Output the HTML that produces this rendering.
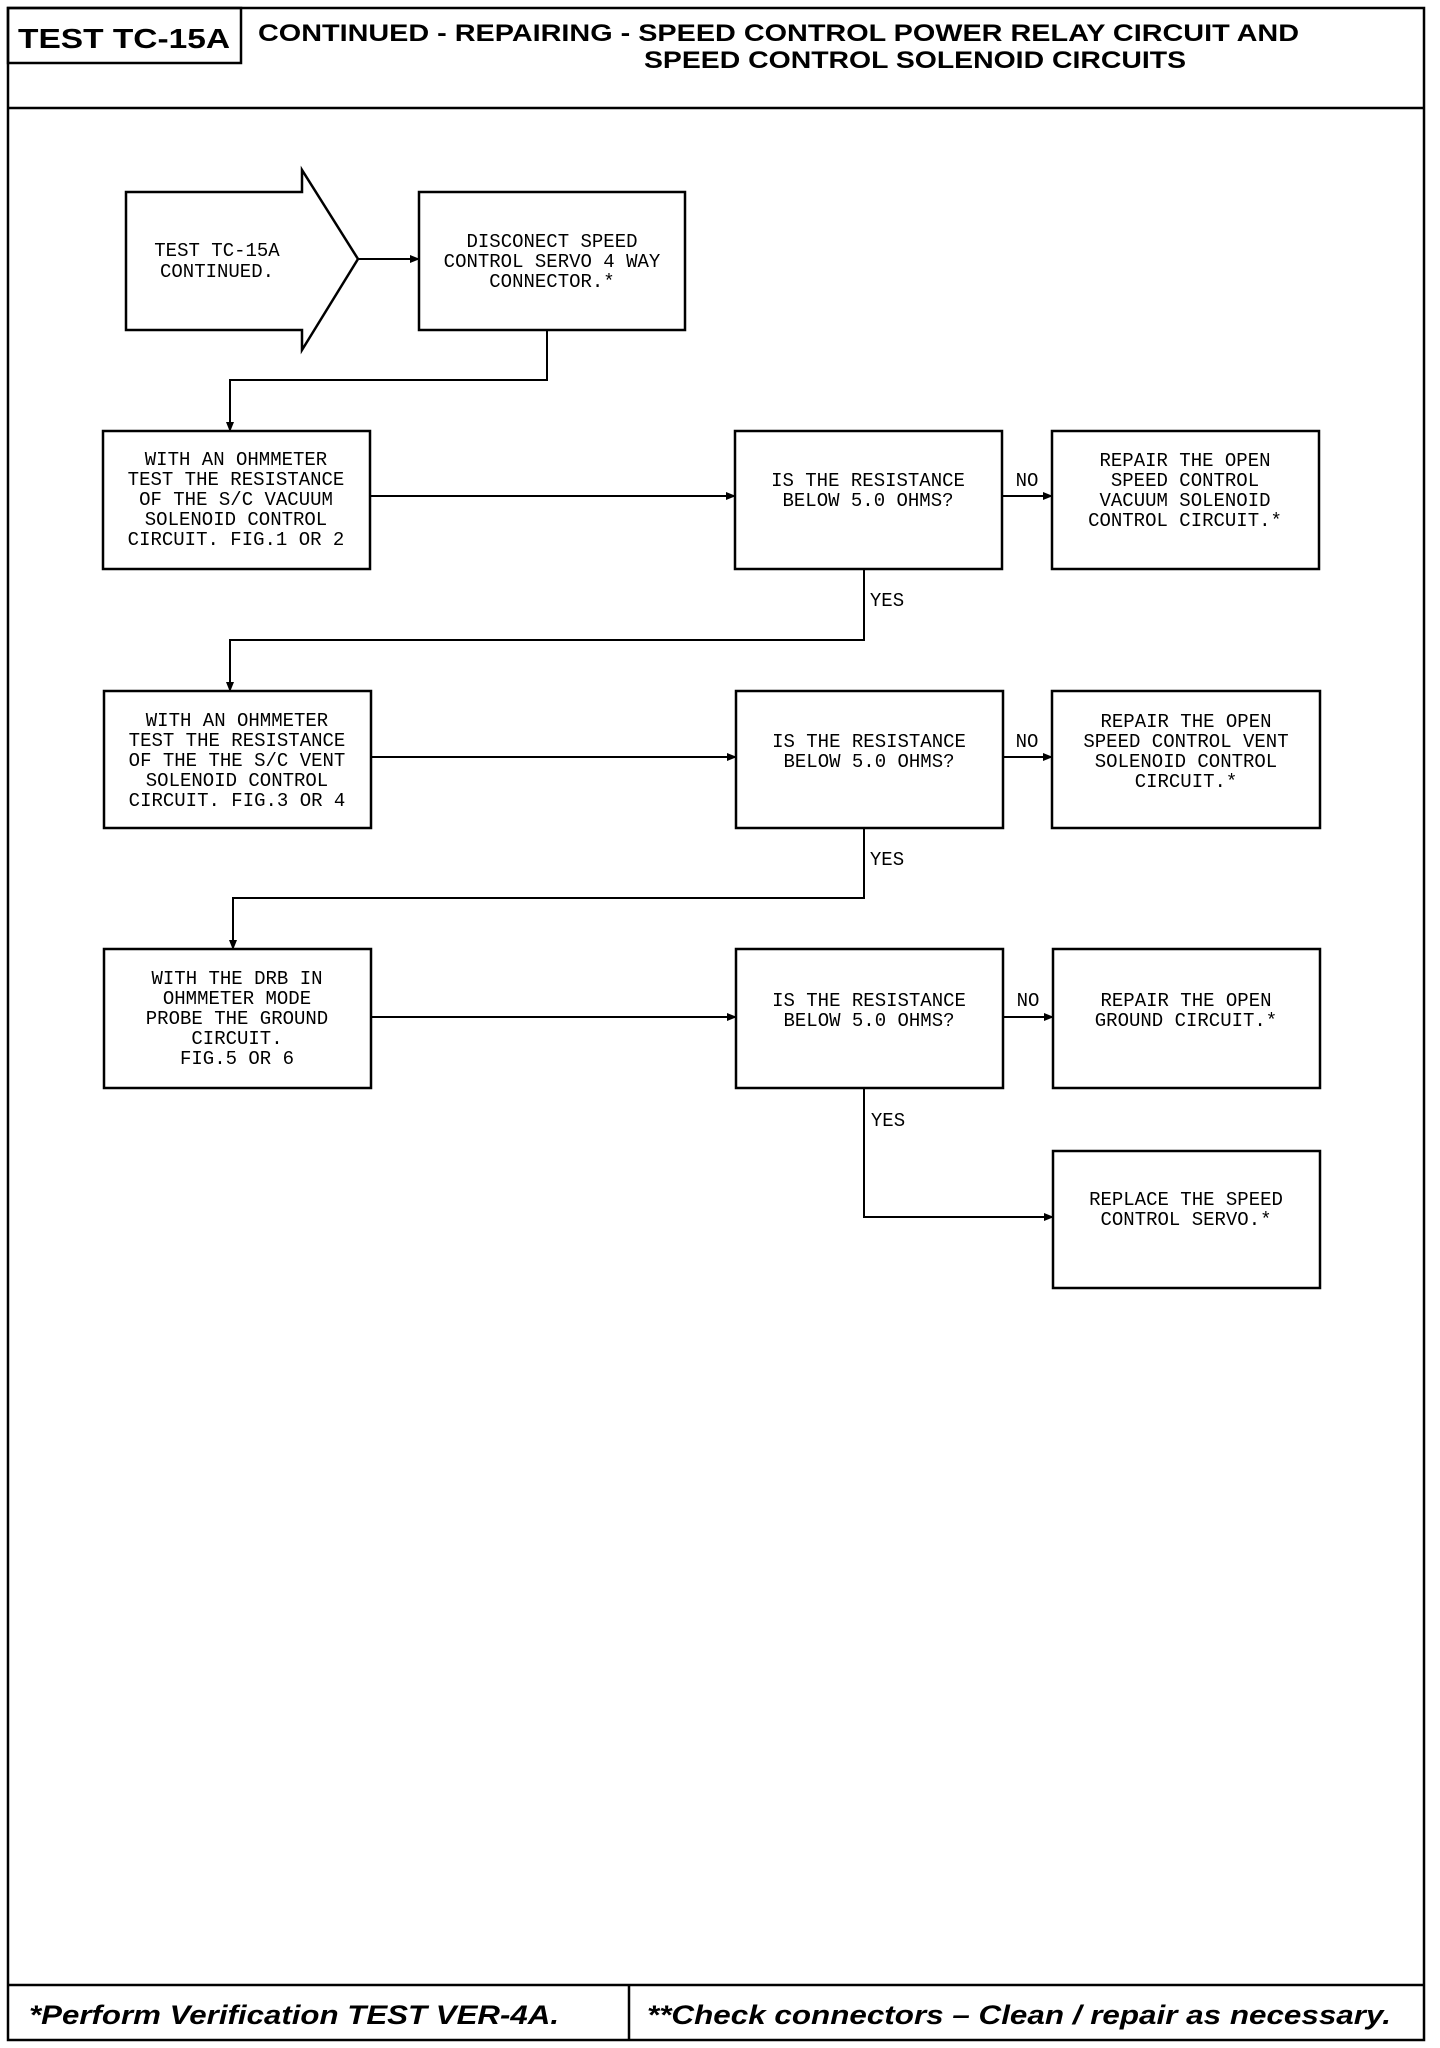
<!DOCTYPE html>
<html><head><meta charset="utf-8"><style>html,body{margin:0;padding:0;background:#fff}svg{display:block}</style></head>
<body>
<svg width="1440" height="2048" viewBox="0 0 1440 2048" xmlns="http://www.w3.org/2000/svg">
<defs><marker id="ah" markerWidth="10" markerHeight="8" refX="9" refY="4" orient="auto" markerUnits="userSpaceOnUse"><path d="M0,0 L10,4 L0,8 z" fill="#000"/></marker></defs>
<g fill="none" stroke="#000" stroke-width="2.5">
<rect x="8" y="8" width="1416" height="2032"/>
<line x1="8" y1="108" x2="1424" y2="108"/>
<rect x="8" y="8" width="233" height="55"/>
<line x1="8" y1="1985" x2="1424" y2="1985"/>
<line x1="629" y1="1985" x2="629" y2="2040"/>
<polygon points="126,192 302,192 302,170 358,259 302,350 302,330 126,330"/>
<rect x="419" y="192" width="266" height="138"/>
<rect x="103" y="431" width="267" height="138"/>
<rect x="735" y="431" width="267" height="138"/>
<rect x="1052" y="431" width="267" height="138"/>
<rect x="104" y="691" width="267" height="137"/>
<rect x="736" y="691" width="267" height="137"/>
<rect x="1052" y="691" width="268" height="137"/>
<rect x="104" y="949" width="267" height="139"/>
<rect x="736" y="949" width="267" height="139"/>
<rect x="1053" y="949" width="267" height="139"/>
<rect x="1053" y="1151" width="267" height="137"/>
</g>
<g fill="none" stroke="#000" stroke-width="2" marker-end="url(#ah)">
<line x1="358" y1="259" x2="419" y2="259"/>
<polyline points="547,330 547,380 230,380 230,431"/>
<line x1="370" y1="496" x2="735" y2="496"/>
<line x1="1002" y1="496" x2="1052" y2="496"/>
<polyline points="864,569 864,640 230,640 230,691"/>
<line x1="371" y1="757" x2="736" y2="757"/>
<line x1="1003" y1="757" x2="1052" y2="757"/>
<polyline points="864,828 864,898 233,898 233,949"/>
<line x1="371" y1="1017" x2="736" y2="1017"/>
<line x1="1003" y1="1017" x2="1053" y2="1017"/>
<polyline points="864,1088 864,1217 1053,1217"/>
</g>
<g font-family="Liberation Sans, sans-serif" font-weight="bold" fill="#000">
<text x="18" y="48" font-size="28" textLength="212" lengthAdjust="spacingAndGlyphs">TEST TC-15A</text>
<text x="258" y="41" font-size="24" textLength="1041" lengthAdjust="spacingAndGlyphs">CONTINUED -  REPAIRING - SPEED CONTROL POWER RELAY CIRCUIT AND</text>
<text x="644" y="68" font-size="24" textLength="542" lengthAdjust="spacingAndGlyphs">SPEED CONTROL SOLENOID CIRCUITS</text>
<text x="29" y="2024" font-size="27" font-style="italic" textLength="530" lengthAdjust="spacingAndGlyphs">*Perform Verification TEST VER-4A.</text>
<text x="647" y="2024" font-size="27" font-style="italic" textLength="744" lengthAdjust="spacingAndGlyphs">**Check connectors – Clean / repair as necessary.</text>
</g>
<g font-family="Liberation Mono, monospace" font-size="19" fill="#000" text-anchor="middle">
<text x="217" y="256">TEST TC-15A</text><text x="217" y="277">CONTINUED.</text>
<text x="552" y="247">DISCONECT SPEED</text><text x="552" y="267">CONTROL SERVO 4 WAY</text><text x="552" y="287">CONNECTOR.*</text>
<text x="236" y="465">WITH AN OHMMETER</text><text x="236" y="485">TEST THE RESISTANCE</text><text x="236" y="505">OF THE S/C VACUUM</text><text x="236" y="525">SOLENOID CONTROL</text><text x="236" y="545">CIRCUIT. FIG.1 OR 2</text>
<text x="868" y="486">IS THE RESISTANCE</text><text x="868" y="506">BELOW 5.0 OHMS?</text>
<text x="1185" y="466">REPAIR THE OPEN</text><text x="1185" y="486">SPEED CONTROL</text><text x="1185" y="506">VACUUM SOLENOID</text><text x="1185" y="526">CONTROL CIRCUIT.*</text>
<text x="237" y="726">WITH AN OHMMETER</text><text x="237" y="746">TEST THE RESISTANCE</text><text x="237" y="766">OF THE THE S/C VENT</text><text x="237" y="786">SOLENOID CONTROL</text><text x="237" y="806">CIRCUIT. FIG.3 OR 4</text>
<text x="869" y="747">IS THE RESISTANCE</text><text x="869" y="767">BELOW 5.0 OHMS?</text>
<text x="1186" y="727">REPAIR THE OPEN</text><text x="1186" y="747">SPEED CONTROL VENT</text><text x="1186" y="767">SOLENOID CONTROL</text><text x="1186" y="787">CIRCUIT.*</text>
<text x="237" y="984">WITH THE DRB IN</text><text x="237" y="1004">OHMMETER MODE</text><text x="237" y="1024">PROBE THE GROUND</text><text x="237" y="1044">CIRCUIT.</text><text x="237" y="1064">FIG.5 OR 6</text>
<text x="869" y="1006">IS THE RESISTANCE</text><text x="869" y="1026">BELOW 5.0 OHMS?</text>
<text x="1186" y="1006">REPAIR THE OPEN</text><text x="1186" y="1026">GROUND CIRCUIT.*</text>
<text x="1186" y="1205">REPLACE THE SPEED</text><text x="1186" y="1225">CONTROL SERVO.*</text>
<text x="1027" y="486">NO</text><text x="1027" y="747">NO</text><text x="1028" y="1006">NO</text>
<text x="887" y="606">YES</text><text x="887" y="865">YES</text><text x="888" y="1126">YES</text>
</g>
</svg>
</body></html>
